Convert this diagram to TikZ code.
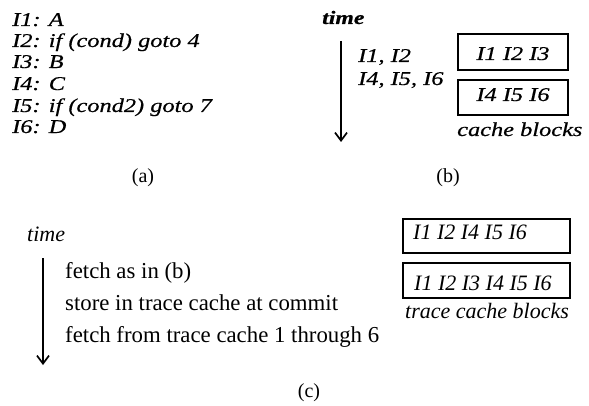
\documentclass[tikz,border=0pt]{standalone}
\usepackage{fontspec}
\setmainfont{Liberation Serif}
\newfontfamily\wideit[FakeStretch=1.25,FakeBold=0.6]{Liberation Serif}
\usetikzlibrary{arrows.meta}
\tikzset{
  stmt/.style={anchor=base west, inner sep=0pt, font=\wideit\itshape\fontsize{19.5}{21}\selectfont},
  timeb/.style={anchor=base west, inner sep=0pt, font=\wideit\bfseries\itshape\fontsize{19}{21}\selectfont},
  plaintext/.style={anchor=base west, inner sep=0pt, font=\fontsize{22.8}{24}\selectfont},
  itc/.style={anchor=base west, inner sep=0pt, font=\itshape\fontsize{22}{24}\selectfont},
  figcap/.style={inner sep=0pt, font=\fontsize{20}{22}\selectfont},
  blk/.style={draw, line width=1.5pt},
  timearrow/.style={line width=1.7pt, -{Straight Barb[length=8pt,width=12pt,line width=1.7pt]}},
}
\begin{document}
\begin{tikzpicture}[x=1pt,y=-1pt]
\useasboundingbox (0,0) rectangle (589,406);
% (a)
\node[stmt] (a1) at (12,26)  {I1: A};
\node[stmt] (a2) at (12,47)  {I2: if (cond) goto 4};
\node[stmt] (a3) at (12,68)  {I3: B};
\node[stmt] (a4) at (12,90)  {I4: C};
\node[stmt] (a5) at (12,112) {I5: if (cond2) goto 7};
\node[stmt] (a6) at (12,133) {I6: D};
\node[figcap] (capa) at (143,178) {(a)};
% (b)
\node[timeb] (timeb) at (322,24) {time};
\coordinate (bt) at (341,41);
\coordinate (bb) at (341,142);
\draw[timearrow] (bt) -- (bb);
\node[stmt] (b1) at (358,62) {I1, I2};
\node[stmt] (b2) at (358,85) {I4, I5, I6};
\draw[blk] (458,34) rectangle (568,70);
\draw[blk] (458,80) rectangle (568,115);
\node[stmt, anchor=base] (cb1) at (513,60) {I1 I2 I3};
\node[stmt, anchor=base] (cb2) at (513,101) {I4 I5 I6};
\node[stmt] (cbl) at (457,136) {cache blocks};
\node[figcap] (capb) at (448,178) {(b)};
% (c)
\node[itc] (timec) at (27,241) {time};
\coordinate (ct) at (43,258);
\coordinate (cb) at (43,365);
\draw[timearrow] (ct) -- (cb);
\node[plaintext] (c1) at (65,278) {fetch as in (b)};
\node[plaintext] (c2) at (65,310) {store in trace cache at commit};
\node[plaintext] (c3) at (65,342) {fetch from trace cache 1 through 6};
\draw[blk] (403,219) rectangle (570,253);
\draw[blk] (403,263) rectangle (570,298);
\node[itc] (tc1) at (413,240) {I1 I2 I4 I5 I6};
\node[itc] (tc2) at (414,290) {I1 I2 I3 I4 I5 I6};
\node[itc] (tcl) at (405,318) {trace cache blocks};
\node[figcap] (capc) at (309,393) {(c)};
\end{tikzpicture}
\end{document}
